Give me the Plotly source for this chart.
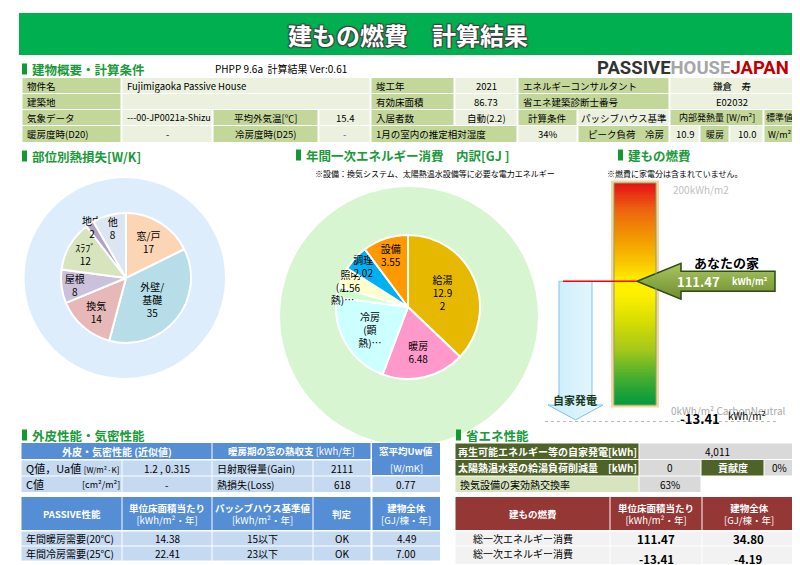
import plotly.graph_objects as go

FONT = "Noto Sans CJK JP"

# ---------------- data ----------------
heat_loss_labels = ["窓/戸", "外壁/基礎", "換気", "屋根", "スラブ", "地中", "他"]
heat_loss_text = ["窓/戸", "外壁/<br>基礎", "換気", "屋根", "ｽﾗﾌﾞ", "地中", "他"]
heat_loss_values = [17, 35, 14, 8, 12, 2, 8]
heat_loss_colors = ["#FCD5B5", "#B7DEE8", "#E6B9B8", "#CCC1DA", "#D7E4BD", "#B3A2C7", "#DCE6F2"]

energy_labels = ["給湯", "暖房", "冷房(顕熱)", "冷房(潜熱)", "照明", "調理", "設備"]
energy_values = [12.92, 6.48, 7.44, 0.83, 1.56, 2.02, 3.55]
energy_text = ["給湯<br>12.9<br>2", "暖房<br>6.48", "冷房<br>(顕<br>熱)…", "(潜<br>熱)…",
               "照明<br>1.56", "調理<br>2.02", "設備<br>3.55"]
energy_colors = ["#E6B800", "#FF99CC", "#CCFFFF", "#CCFFCC", "#FFFFCC", "#00B0F0", "#FF9900"]

gauge_min, gauge_max = 0, 200
house_value = 111.47
self_gen_value = -13.41

# top table rows: (x0, x1, text, kind, align)
top_rows = [
    [(14, 113, "物件名", "L", "left"), (114, 362, "Fujimigaoka Passive House", "V", "left"),
     (363, 446, "竣工年", "L", "left"), (447, 509, "2021", "V", "center"),
     (510, 661, "エネルギーコンサルタント", "L", "left"), (662, 786, "鎌倉　寿", "V", "center")],
    [(14, 113, "建築地", "L", "left"), (114, 362, "", "V", "left"),
     (363, 446, "有効床面積", "L", "left"), (447, 509, "86.73", "V", "center"),
     (510, 661, "省エネ建築診断士番号", "L", "left"), (662, 786, "E02032", "V", "center")],
    [(14, 113, "気象データ", "L", "left"), (114, 204, "---00-JP0021a-Shizu", "V", "left"),
     (205, 310, "平均外気温[℃]", "L", "center"), (311, 362, "15.4", "V", "center"),
     (363, 446, "入居者数", "L", "left"), (447, 509, "自動(2.2)", "V", "center"),
     (510, 569, "計算条件", "L", "center"), (570, 661, "パッシブハウス基準", "V", "center"),
     (662, 755, "内部発熱量 [W/m²]", "L", "center"), (756, 786, "標準値", "L", "center")],
    [(14, 113, "暖房度時(D20)", "L", "left"), (114, 204, "-", "V", "center"),
     (205, 310, "冷房度時(D25)", "L", "center"), (311, 362, "-", "VB", "center"),
     (363, 509, "1月の室内の推定相対湿度", "L", "left"), (510, 569, "34%", "V", "center"),
     (570, 661, "ピーク負荷　　　冷房", "L", "center"), (662, 691, "10.9", "V", "center"),
     (692, 721, "暖房", "L", "center"), (722, 755, "10.0", "V", "center"),
     (756, 786, "W/m²", "L", "center")],
]
top_row_y = [(70, 85), (86, 101), (102, 117), (118, 134)]

passive_header = ["PASSIVE性能", "<b>単位床面積当たり</b><br>[kWh/m²・年]",
                  "<b>パッシブハウス基準値</b><br>[kWh/m²・年]", "判定", "<b>建物全体</b><br>[GJ/棟・年]"]
passive_rows = [["年間暖房需要(20℃)", "14.38", "15以下", "OK", "4.49"],
                ["年間冷房需要(25℃)", "22.41", "23以下", "OK", "7.00"]]

fuel_header = ["建もの燃費", "<b>単位床面積当たり</b><br>[kWh/m²・年]", "<b>建物全体</b><br>[GJ/棟・年]"]
fuel_rows = [["総一次エネルギー消費", "111.47", "34.80"],
             ["総一次エネルギー消費", "-13.41", "-4.19"]]

# ---------------- helpers ----------------
shapes, annos = [], []
LBL, VAL = "#C4D79B", "#EBF1DE"
HB, LB = "#558ED5", "#C5D9F1"
GREEN_T = "#1A9A3A"


def rect(x0, y0, x1, y1, fill, layer="below", yref="y", line=None):
    shapes.append(dict(type="rect", xref="x", yref=yref, x0=x0, x1=x1, y0=y0, y1=y1,
                       fillcolor=fill, line=line or dict(width=0), layer=layer))


def text(x, y, s, size=10, color="black", anchor="center", bold=False, yref="y", family=FONT, **kw):
    annos.append(dict(x=x, y=y, xref="x", yref=yref, text=f"<b>{s}</b>" if bold else s,
                      showarrow=False, xanchor=anchor, yanchor="middle",
                      font=dict(size=size, color=color, family=family), **kw))


def cell(x0, x1, y0, y1, fill, s, align="center", color="black", size=10, bold=False):
    rect(x0 + 0.5, y0, x1 - 0.5, y1, fill)
    if s:
        ym = (y0 + y1) / 2
        if align == "left":
            text(x0 + 3, ym, s, size, color, "left", bold)
        else:
            text((x0 + x1) / 2, ym, s, size, color, "center", bold)


def section(x, y, s):
    rect(x, y - 5.5, x + 5, y + 5.5, "#109A30")
    text(x + 8, y, s, 12.5, GREEN_T, "left", True)


fig = go.Figure()

# invisible trace to hold the full-canvas pixel axes
fig.add_trace(go.Scatter(x=[0, 800], y=[0, 565], mode="markers", marker=dict(opacity=0),
                         hoverinfo="skip", showlegend=False))

# ---------------- header ----------------
rect(11, 5, 788, 47, "#00B050")
annos.append(dict(x=400, y=26, xref="x", yref="y", text="<b>建もの燃費　計算結果</b>", showarrow=False,
                  font=dict(size=24, color="white", family=FONT,
                            shadow="1px 1px 1px #404040, -1px -1px 1px #404040, 1px -1px 1px #404040, -1px 1px 1px #404040")))

section(14, 61, "建物概要・計算条件")
text(205, 60, "PHPP 9.6a  計算結果 Ver:0.61", 10, "black", "left")
text(783, 60, "<b><span style='color:#333333'>PASSIVE</span><span style='color:#A6A6A6'>HOUSE</span>"
              "<span style='color:#C00000'>JAPAN</span></b>", 18.5, "black", "right", family="Roboto")

small_cells = {"内部発熱量 [W/m²]", "標準値", "W/m²", "暖房", "---00-JP0021a-Shizu"}
for (y0, y1), row in zip(top_row_y, top_rows):
    for x0, x1, s, kind, al in row:
        fill = LBL if kind == "L" else VAL
        col = "#3355FF" if kind == "VB" else "black"
        if s.startswith("ピーク負荷"):
            cell(x0, x1, y0, y1, fill, "")
            text(604, (y0 + y1) / 2, "ピーク負荷", 9.5)
            text(658, (y0 + y1) / 2, "冷房", 9.5, anchor="right")
        else:
            cell(x0, x1, y0, y1, fill, s, al, col, 9 if s in small_cells else 9.5)

# ---------------- section 2 ----------------
section(14, 148, "部位別熱損失[W/K]")
section(288, 147, "年間一次エネルギー消費　内訳[GJ ]")
section(610, 147, "建もの燃費")
text(427, 165, "※設備：換気システム、太陽熱温水設備等に必要な電力エネルギー", 8, "black")
text(667, 165, "※燃費に家電分は含まれていません。", 8, "black")

shapes.append(dict(type="circle", xref="x", yref="y", x0=16.5, x1=217, y0=170, y1=370,
                   fillcolor="#DDEDFB", line=dict(width=0), layer="below"))
shapes.append(dict(type="circle", xref="x", yref="y", x0=272, x1=530, y0=179, y1=437,
                   fillcolor="#D8F5D2", line=dict(width=0), layer="below"))

fig.add_trace(go.Pie(labels=heat_loss_labels, values=heat_loss_values, text=heat_loss_text,
                     texttemplate="%{text}<br>%{value}", sort=False, direction="clockwise", rotation=0,
                     marker=dict(colors=heat_loss_colors, line=dict(color="white", width=2)),
                     textposition="inside", insidetextorientation="horizontal",
                     textfont=dict(size=10, color="black", family=FONT),
                     domain=dict(x=[53 / 800, 183 / 800], y=[1 - 335 / 565, 1 - 205 / 565]),
                     hoverinfo="label+value", showlegend=False))

fig.add_trace(go.Pie(labels=energy_labels, values=energy_values, text=energy_text,
                     texttemplate="%{text}", sort=False, direction="clockwise", rotation=0,
                     marker=dict(colors=energy_colors, line=dict(color="white", width=2)),
                     textposition="inside", insidetextorientation="horizontal",
                     textfont=dict(size=10, color="black", family=FONT),
                     domain=dict(x=[328 / 800, 472 / 800], y=[1 - 371 / 565, 1 - 227 / 565]),
                     hoverinfo="label+value", showlegend=False))

# ---------------- gauge ----------------
PX_PER = 222 / (gauge_max - gauge_min)
y2_lo = gauge_min - (430 - 397) / PX_PER
y2_hi = gauge_max + (175 - 160) / PX_PER

rect(603, gauge_min - 2.5 / PX_PER, 651, gauge_max + 2.5 / PX_PER, "#F9D3A6", yref="y2")
edges = list(range(gauge_min, gauge_max + 1, 2))
zvals = [[(a + b) / 2] for a, b in zip(edges[:-1], edges[1:])]
gauge_scale = [[0, "#009A3E"], [0.12, "#45AC30"], [0.25, "#A5C81A"], [0.38, "#D8DE00"],
               [0.5, "#FFF000"], [0.56, "#FFEE00"], [0.64, "#F9C600"], [0.76, "#F29600"],
               [0.88, "#EC6410"], [1, "#E60F17"]]
fig.add_trace(go.Heatmap(x=[606, 648], y=edges, z=zvals, xaxis="x", yaxis="y2", zmin=gauge_min,
                         zmax=gauge_max, colorscale=gauge_scale, showscale=False, hoverinfo="skip"))
shapes.append(dict(type="rect", xref="x", yref="y2", x0=606, x1=648, y0=gauge_min, y1=gauge_max,
                   line=dict(color="#7FA85A", width=1), fillcolor="rgba(0,0,0,0)", layer="above"))

# self generation arrow (light blue)
hv, sv = house_value, self_gen_value
fig.add_trace(go.Scatter(x=[551, 584, 584, 595, 567.5, 540, 551, 551],
                         y=[hv, hv, 0, 0, sv, 0, 0, hv], xaxis="x", yaxis="y2", mode="lines",
                         fill="toself", line=dict(color="#7CC5E6", width=1),
                         fillgradient=dict(type="horizontal",
                                           colorscale=[[0, "#C8ECFB"], [1, "#EAF8FE"]]),
                         hoverinfo="skip", showlegend=False))
shapes.append(dict(type="line", xref="x", yref="y2", x0=555, x1=629, y0=hv, y1=hv,
                   line=dict(color="#FF0000", width=1.6), layer="above"))
text(567, 392, "自家発電", 11, "#173A1A", bold=True)

# house arrow (olive)
fig.add_trace(go.Scatter(x=[629, 673, 673, 767, 767, 673, 673, 629],
                         y=[hv, hv + 16.2, hv + 9, hv + 9, hv - 9, hv - 9, hv - 16.2, hv],
                         xaxis="x", yaxis="y2", mode="lines", fill="toself",
                         line=dict(color="#2F4A14", width=1.5),
                         fillgradient=dict(type="vertical",
                                           colorscale=[[0, "#6F8D2E"], [1, "#A9C661"]]),
                         hoverinfo="skip", showlegend=False))
text(718, hv + 17, "あなたの家", 13, "black", bold=True, yref="y2")
text(690, hv, f"{hv:.2f}", 13, "white", bold=True, yref="y2")
text(742, hv, "kWh/m²", 9, "white", bold=True, yref="y2")

shapes.append(dict(type="line", xref="x", yref="y", x0=537, x1=770, y0=413.5, y1=413.5,
                   line=dict(color="#BBBBBB", width=1, dash="dot"), layer="above"))
text(693, 181, f"{gauge_max}kWh/m2", 10, "#C0C0C0")
text(720, 402, f"{gauge_min}kWh/m² CarbonNeutral", 10, "#AAAAAA")
text(692, 410, f"{sv:.2f}", 13, "black", bold=True)
text(739, 407, "kWh/m²", 10, "black")

# ---------------- section 3 ----------------
section(14, 427, "外皮性能・気密性能")
section(448, 427, "省エネ性能")

# envelope table
cell(13, 204, 435, 451, HB, "外皮・気密性能 (近似値)", color="white", bold=True)
cell(204, 363, 435, 451, HB, "<b>暖房期の窓の熱収支</b> [kWh/年]", color="white", size=9.5)
rect(364, 435, 432, 467, HB)
text(398, 443, "窓平均Uw値", 9.5, "white", bold=True)
text(398, 459.5, "[W/mK]", 9.5, "white")
cell(13, 114, 452.5, 467.5, LB, "")
text(16, 460, "Q値，Ua値 <span style='font-size:8px'>[W/m²·K]</span>", 11, anchor="left")
cell(114, 204, 452.5, 467.5, LB, "1.2 , 0.315")
cell(204, 305, 452.5, 467.5, LB, "日射取得量(Gain)", "left")
cell(305, 363, 452.5, 467.5, LB, "2111")
cell(13, 114, 468.5, 484, LB, "")
text(16, 476, "C値", 11, anchor="left")
text(72, 476, "[cm²/m²]", 9, anchor="left")
cell(114, 204, 468.5, 484, LB, "-")
cell(204, 305, 468.5, 484, LB, "熱損失(Loss)", "left")
cell(305, 363, 468.5, 484, LB, "618")
cell(364, 432.5, 468.5, 484, LB, "0.77")

# passive table
pcols = [(13, 114), (114, 204), (204, 305), (305, 363), (364, 432.5)]
for (x0, x1), h in zip(pcols, passive_header):
    cell(x0, x1, 489, 522, HB, h if "<br>" in h else f"<b>{h}</b>", color="white", size=9.5)
for (y0, y1), row in zip([(523.5, 537.5), (538.5, 552.5)], passive_rows):
    for i, ((x0, x1), s) in enumerate(zip(pcols, row)):
        cell(x0, x1, y0, y1, LB, s, "left" if i == 0 else "center")

# energy saving table
OLV, GRY = "#4F6228", "#D9D9D9"
cell(447, 631, 435.5, 451, OLV, "再生可能エネルギー等の自家発電[kWh]", color="white", bold=True)
cell(631, 787, 435.5, 451, GRY, "4,011")
cell(447, 631, 452, 467.5, OLV, "太陽熱温水器の給湯負荷削減量　[kWh]", color="white", bold=True)
cell(631, 693, 452, 467.5, GRY, "0")
cell(693, 756, 452, 467.5, OLV, "貢献度", color="white", bold=True)
cell(756, 787, 452, 467.5, GRY, "0%")
cell(447, 631, 468.5, 484, "#D7E4BD", "換気設備の実効熱交換率", "left")
cell(631, 693, 468.5, 484, GRY, "63%")

fcols = [(447, 602), (602, 694), (694, 787)]
RED = "#953735"
for (x0, x1), h in zip(fcols, fuel_header):
    cell(x0, x1, 489, 522, RED, h if "<br>" in h else f"<b>{h}</b>", color="white", size=9.5)
for j, ((y0, y1), row) in enumerate(zip([(523.5, 537.5), (538.5, 556)], fuel_rows)):
    for i, ((x0, x1), s) in enumerate(zip(fcols, row)):
        cell(x0, x1, y0, y1, "#F2F2F2", "")
        if i == 0:
            text(x0 + 16, 530.5 if j == 0 else 545, s, 10, anchor="left")
        else:
            text((x0 + x1) / 2, 530.5 if j == 0 else 551, s, 11.5, bold=True)

fig.update_layout(
    width=800, height=565, margin=dict(l=0, r=0, t=0, b=0),
    paper_bgcolor="white", plot_bgcolor="rgba(0,0,0,0)",
    xaxis=dict(range=[0, 800], domain=[0, 1], visible=False, fixedrange=True),
    yaxis=dict(range=[565, 0], domain=[0, 1], visible=False, fixedrange=True),
    yaxis2=dict(range=[y2_lo, y2_hi], domain=[1 - 430 / 565, 1 - 160 / 565], anchor="x",
                visible=False, fixedrange=True),
    shapes=shapes, annotations=annos, showlegend=False,
    font=dict(family=FONT, size=10, color="black"),
    uniformtext=dict(minsize=9, mode="show"),
)

fig.write_html("out.html")
